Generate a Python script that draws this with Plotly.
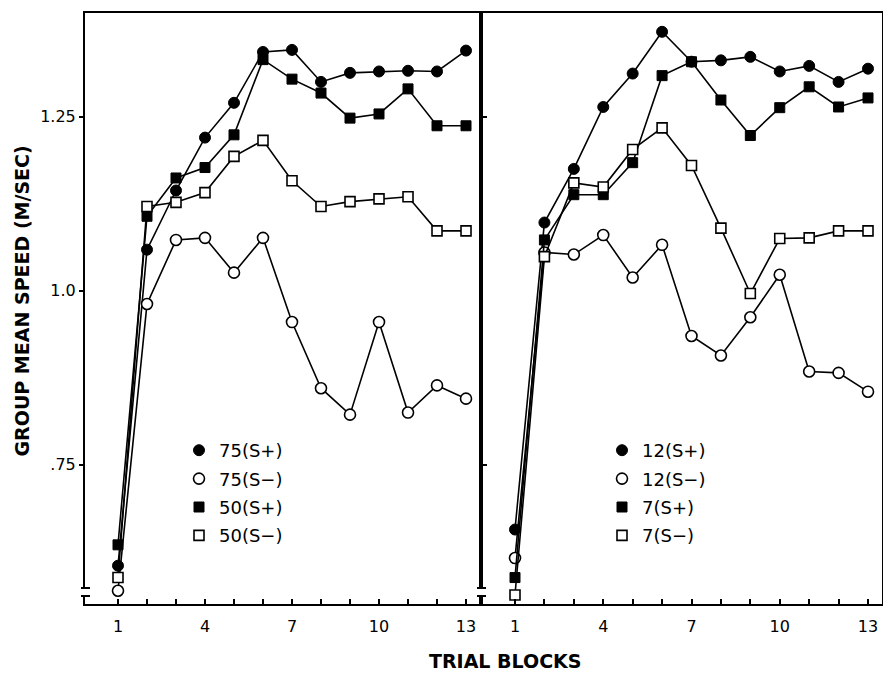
import plotly.graph_objects as go

blocks = list(range(1, 14))
tick_labels = ["1", "", "", "4", "", "", "7", "", "", "10", "", "", "13"]

# Left panel
s75_plus = [0.605, 1.059, 1.144, 1.220, 1.270, 1.343, 1.346, 1.300, 1.313, 1.315, 1.316, 1.315, 1.345]
s75_minus = [0.569, 0.981, 1.073, 1.076, 1.026, 1.076, 0.955, 0.860, 0.822, 0.955, 0.825, 0.864, 0.845]
s50_plus = [0.635, 1.107, 1.162, 1.177, 1.224, 1.332, 1.304, 1.284, 1.248, 1.254, 1.290, 1.237, 1.237]
s50_minus = [0.588, 1.121, 1.127, 1.141, 1.193, 1.216, 1.158, 1.121, 1.128, 1.132, 1.135, 1.086, 1.086]

# Right panel
s12_plus = [0.657, 1.098, 1.175, 1.264, 1.312, 1.372, 1.329, 1.331, 1.336, 1.315, 1.323, 1.300, 1.319]
s12_minus = [0.616, 1.055, 1.052, 1.080, 1.019, 1.066, 0.935, 0.907, 0.962, 1.023, 0.884, 0.882, 0.855]
s7_plus = [0.588, 1.073, 1.138, 1.138, 1.184, 1.309, 1.329, 1.274, 1.223, 1.263, 1.293, 1.264, 1.277]
s7_minus = [0.563, 1.049, 1.155, 1.149, 1.203, 1.234, 1.180, 1.090, 0.996, 1.075, 1.076, 1.086, 1.086]

y_tick_vals = [0.75, 1.0, 1.25]
y_tick_text = [".75", "1.0", "1.25"]

FONT = "DejaVu Sans"
styles = {
    "fc": dict(symbol="circle", size=11, color="black", line=dict(color="black", width=1)),
    "oc": dict(symbol="circle", size=11, color="white", line=dict(color="black", width=1.6)),
    "fs": dict(symbol="square", size=10, color="black", line=dict(color="black", width=1)),
    "os": dict(symbol="square", size=10, color="white", line=dict(color="black", width=1.6)),
}

fig = go.Figure()

left_series = [("75(S+)", s75_plus, "fc"), ("75(S\u2212)", s75_minus, "oc"),
               ("50(S+)", s50_plus, "fs"), ("50(S\u2212)", s50_minus, "os")]
right_series = [("12(S+)", s12_plus, "fc"), ("12(S\u2212)", s12_minus, "oc"),
                ("7(S+)", s7_plus, "fs"), ("7(S\u2212)", s7_minus, "os")]

for (name, vals, st) in left_series:
    fig.add_trace(go.Scatter(x=blocks, y=vals, mode="lines+markers", xaxis="x", yaxis="y",
                             line=dict(color="black", width=1.6), marker=styles[st],
                             showlegend=False, cliponaxis=False))
for (name, vals, st) in right_series:
    fig.add_trace(go.Scatter(x=blocks, y=vals, mode="lines+markers", xaxis="x2", yaxis="y2",
                             line=dict(color="black", width=1.6), marker=styles[st],
                             showlegend=False, cliponaxis=False))

# legend-only entries (markers only)
for i, (name, vals, st) in enumerate(left_series):
    fig.add_trace(go.Scatter(x=[None], y=[None], mode="markers", name=name, marker=styles[st],
                             xaxis="x", yaxis="y", legend="legend", legendgroup="L%d" % i))
for i, (name, vals, st) in enumerate(right_series):
    fig.add_trace(go.Scatter(x=[None], y=[None], mode="markers", name=name, marker=styles[st],
                             xaxis="x2", yaxis="y2", legend="legend2", legendgroup="R%d" % i))

# page body has an 8px margin: build the figure 8px smaller and shifted
OFF = 8
W, H = 891 - OFF, 673 - OFF
L, T = 85 - OFF, 13 - OFF
R, B = W - (882 - OFF), H - (604 - OFF)
split = (481 - 85) / (882 - 85)


def px_x(p):
    return (p - 85) / (882 - 85)


def px_y(p):
    return (604 - p) / (604 - 13)


xcommon = dict(tickmode="array", tickvals=blocks, ticktext=tick_labels, ticks="inside",
               ticklen=5, tickwidth=1.5, tickcolor="black", showline=True, linecolor="black",
               linewidth=2, mirror=True, showgrid=False, zeroline=False,
               tickfont=dict(family=FONT, size=16, color="black"), ticklabelstandoff=7)

fig.update_layout(
    width=W, height=H,
    margin=dict(l=L, r=R, t=T, b=B, autoexpand=False),
    paper_bgcolor="white", plot_bgcolor="white",
    xaxis=dict(domain=[0, split], range=[-0.138, 13.517], anchor="y", **xcommon),
    xaxis2=dict(domain=[split, 1], range=[-0.156, 13.476], anchor="y2", **xcommon),
    yaxis=dict(domain=[0, 1], range=[0.550, 1.399], anchor="x", tickmode="array",
               tickvals=y_tick_vals, ticktext=y_tick_text, ticks="outside", ticklen=4,
               tickwidth=1.5, tickcolor="black", showline=True, linecolor="black", linewidth=2,
               mirror=True, showgrid=False, zeroline=False,
               tickfont=dict(family=FONT, size=16, color="black")),
    yaxis2=dict(domain=[0, 1], range=[0.550, 1.399], anchor="x2", tickmode="array",
                tickvals=[0.75, 1.25], showticklabels=False, ticks="inside", ticklen=6,
                tickwidth=1.5, tickcolor="black", showline=True, linecolor="black", linewidth=2,
                mirror=True, showgrid=False, zeroline=False),
    legend=dict(x=px_x(179), y=px_y(432), xanchor="left", yanchor="top",
                bgcolor="rgba(0,0,0,0)", font=dict(family=FONT, size=18, color="black"),
                tracegroupgap=2, itemwidth=30),
    legend2=dict(x=px_x(602), y=px_y(432), xanchor="left", yanchor="top",
                 bgcolor="rgba(0,0,0,0)", font=dict(family=FONT, size=18, color="black"),
                 tracegroupgap=2, itemwidth=30),
    annotations=[
        dict(text="<b>GROUP MEAN SPEED (M/SEC)</b>", textangle=-90, xref="paper", yref="paper",
             x=0, y=0.5, xshift=-64, yshift=7, showarrow=False,
             font=dict(family=FONT, size=19, color="black"), xanchor="center", yanchor="middle"),
        dict(text="<b>TRIAL BLOCKS</b>", xref="paper", yref="paper", x=0.5, y=0,
             xshift=22, yshift=-57, showarrow=False,
             font=dict(family=FONT, size=19, color="black"), xanchor="center", yanchor="middle"),
    ],
)

# axis breaks near the bottom of the vertical axis lines
shapes = []
for xp in [0, split]:
    shapes.append(dict(type="rect", xref="paper", yref="paper", xsizemode="pixel", ysizemode="pixel",
                       xanchor=xp, yanchor=0, x0=-4, x1=4, y0=8, y1=16, fillcolor="white",
                       line=dict(width=0), layer="above"))
    for yy in [8, 16]:
        shapes.append(dict(type="line", xref="paper", yref="paper", xsizemode="pixel", ysizemode="pixel",
                           xanchor=xp, yanchor=0, x0=-4, x1=5, y0=yy, y1=yy,
                           line=dict(color="black", width=2), layer="above"))
fig.update_layout(shapes=shapes)

fig.write_html("out.html")
